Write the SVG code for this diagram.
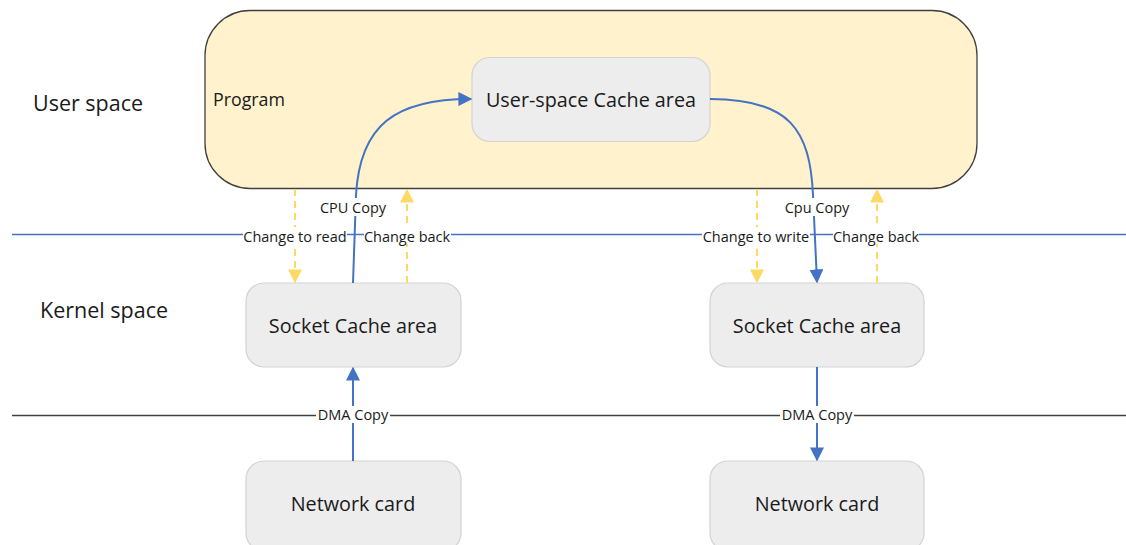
<svg xmlns="http://www.w3.org/2000/svg" width="1126" height="545" viewBox="0 0 1126 545">
  <defs>
    <style>
      text { font-family: "Open Sans", "Liberation Sans", sans-serif; fill: #1a1a1a; }
      .region { font-size: 21.5px; }
      .node { fill: #EDEDED; stroke: #D3D3D3; stroke-width: 1.2; }
      .nodetext { font-size: 19.8px; text-anchor: middle; dominant-baseline: central; }
      .lbl { font-size: 14.5px; text-anchor: middle; dominant-baseline: central; }
      .lblbg { fill: #ffffff; }
      .flow { fill: none; stroke: #4472C4; stroke-width: 2; }
      .mode { fill: none; stroke: #FFD966; stroke-width: 2; stroke-dasharray: 7 5; }
    </style>
    <marker id="blueHead" viewBox="0 0 10 10" refX="9" refY="5" markerWidth="14" markerHeight="14" markerUnits="userSpaceOnUse" orient="auto">
      <path d="M0,0 L10,5 L0,10 z" fill="#4472C4"/>
    </marker>
    <marker id="yellowHead" viewBox="0 0 10 10" refX="9" refY="5" markerWidth="14" markerHeight="14" markerUnits="userSpaceOnUse" orient="auto">
      <path d="M0,0 L10,5 L0,10 z" fill="#FFD966"/>
    </marker>
  </defs>

  <rect width="1126" height="545" fill="#ffffff"/>

  <!-- region labels -->
  <text class="region" x="33" y="111">User space</text>
  <text class="region" x="40" y="318">Kernel space</text>

  <!-- boundary lines -->
  <line x1="12" y1="234.5" x2="1126" y2="234.5" stroke="#4472C4" stroke-width="1.3"/>
  <line x1="12" y1="415.5" x2="1126" y2="415.5" stroke="#404040" stroke-width="1.3"/>

  <!-- nodes -->
  <g id="program">
    <rect x="205" y="10.5" width="772" height="178" rx="45" ry="45" fill="#FFF2CC" stroke="#404040" stroke-width="1.3"/>
    <text x="213" y="106" font-size="17.8">Program</text>
  </g>
  <g id="user-cache">
    <rect class="node" x="472" y="57.5" width="238" height="84" rx="18" ry="18"/>
    <text class="nodetext" x="591" y="99.5">User-space Cache area</text>
  </g>
  <g id="socket-left">
    <rect class="node" x="246" y="283" width="215" height="84" rx="18" ry="18"/>
    <text class="nodetext" x="353" y="325">Socket Cache area</text>
  </g>
  <g id="socket-right">
    <rect class="node" x="710" y="283" width="214" height="84" rx="18" ry="18"/>
    <text class="nodetext" x="817" y="325">Socket Cache area</text>
  </g>
  <g id="nic-left">
    <rect class="node" x="246" y="461" width="215" height="90" rx="18" ry="18"/>
    <text class="nodetext" x="353" y="503">Network card</text>
  </g>
  <g id="nic-right">
    <rect class="node" x="710" y="461" width="214" height="90" rx="18" ry="18"/>
    <text class="nodetext" x="817" y="503">Network card</text>
  </g>

  <!-- connectors -->
  <g id="connectors">
    <!-- CPU copies -->
    <path class="flow" d="M353,283 L356,195 C360,125 395,99 471,99" marker-end="url(#blueHead)"/>
    <path class="flow" d="M710,99 C790,99 810,130 813,195 L817,282" marker-end="url(#blueHead)"/>
    <!-- DMA copies -->
    <path class="flow" d="M353,461 L353,368" marker-end="url(#blueHead)"/>
    <path class="flow" d="M817,367 L817,460" marker-end="url(#blueHead)"/>
    <!-- mode switches -->
    <path class="mode" d="M295,189 L295,282" marker-end="url(#yellowHead)"/>
    <path class="mode" d="M407,283 L407,190" marker-end="url(#yellowHead)"/>
    <path class="mode" d="M757,189 L757,282" marker-end="url(#yellowHead)"/>
    <path class="mode" d="M877,283 L877,190" marker-end="url(#yellowHead)"/>

    <!-- labels -->
    <rect class="lblbg" x="316" y="198" width="74" height="18"/>
    <text class="lbl" x="353" y="207">CPU Copy</text>
    <rect class="lblbg" x="780" y="198" width="74" height="18"/>
    <text class="lbl" x="817" y="207">Cpu Copy</text>

    <rect class="lblbg" x="243" y="227" width="104" height="17"/>
    <text class="lbl" x="295" y="236">Change to read</text>
    <rect class="lblbg" x="364" y="227" width="87" height="17"/>
    <text class="lbl" x="407" y="236">Change back</text>
    <rect class="lblbg" x="702" y="227" width="108" height="17"/>
    <text class="lbl" x="756" y="236">Change to write</text>
    <rect class="lblbg" x="833" y="227" width="86" height="17"/>
    <text class="lbl" x="876" y="236">Change back</text>

    <rect class="lblbg" x="316" y="406" width="74" height="17"/>
    <text class="lbl" x="353" y="414">DMA Copy</text>
    <rect class="lblbg" x="780" y="406" width="74" height="17"/>
    <text class="lbl" x="817" y="414">DMA Copy</text>
  </g>
</svg>
